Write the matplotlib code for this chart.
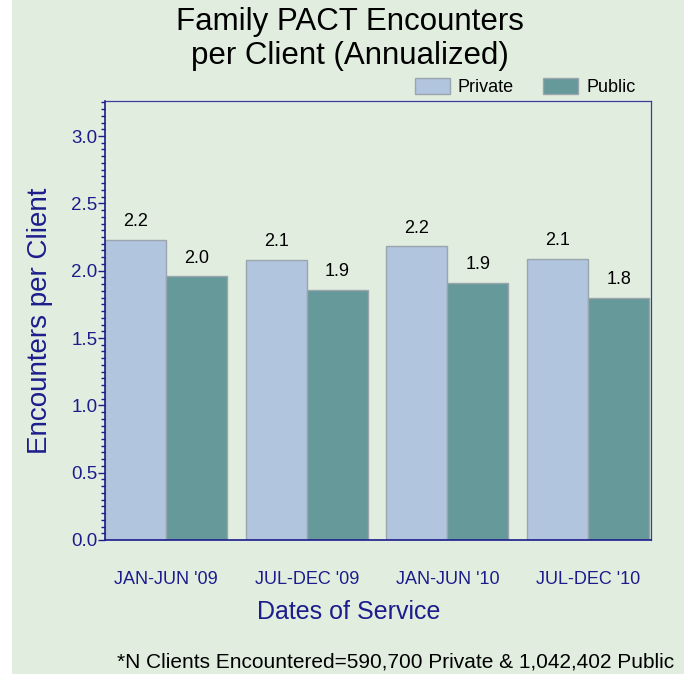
import numpy as np
import matplotlib.pyplot as plt
from matplotlib.ticker import MultipleLocator
from matplotlib.patches import Rectangle

plt.rcParams['font.family'] = ['Liberation Sans', 'DejaVu Sans']

periodos = ["JAN-JUN '09", "JUL-DEC '09", "JAN-JUN '10", "JUL-DEC '10"]
privado = [2.23, 2.08, 2.18, 2.09]
publico = [1.96, 1.86, 1.91, 1.80]
rotulos_privado = ["2.2", "2.1", "2.2", "2.1"]
rotulos_publico = ["2.0", "1.9", "1.9", "1.8"]

fundo = '#e1eedf'
azul = '#1c1c8c'

fig = plt.figure(figsize=(6.87, 6.74), dpi=100, facecolor='white')
fig.patches.append(Rectangle((12/687, 0), 672/687, 1, transform=fig.transFigure,
                             facecolor=fundo, edgecolor='none', zorder=-10))
ax = fig.add_axes([105/687, 1 - 540/674, 546/687, 439/674], facecolor=fundo)

x = np.arange(len(periodos))
w = 0.434
b1 = ax.bar(x - w/2, privado, w, color='#b2c5de', edgecolor='#9aa5ad', linewidth=1, label='Private')
b2 = ax.bar(x + w/2, publico, w, color='#669999', edgecolor='#9aa5ad', linewidth=1, label='Public')

for barra, txt in zip(b1, rotulos_privado):
    ax.text(barra.get_x() + barra.get_width()/2, barra.get_height() + 0.07, txt,
            ha='center', va='bottom', fontsize=13)
for barra, txt in zip(b2, rotulos_publico):
    ax.text(barra.get_x() + barra.get_width()/2, barra.get_height() + 0.07, txt,
            ha='center', va='bottom', fontsize=13)

ax.set_xlim(-0.434, 3.447)
ax.set_ylim(0, 3.26)
ax.set_xticks(x)
ax.set_xticklabels(periodos, color=azul, fontsize=13)
ax.tick_params(axis='x', length=0, pad=22)
ax.yaxis.set_minor_locator(MultipleLocator(0.05))
ax.set_yticks(np.arange(0, 3.01, 0.5))
ax.set_yticklabels([f'{v:.1f}' for v in np.arange(0, 3.01, 0.5)], color=azul, fontsize=13.5)
ax.tick_params(axis='y', which='major', length=5, width=1, color=azul, pad=0.5)
ax.tick_params(axis='y', which='minor', length=3, width=1, color=azul)

for lado in ['left', 'bottom']:
    ax.spines[lado].set_color(azul)
    ax.spines[lado].set_linewidth(1.2)
for lado in ['top', 'right']:
    ax.spines[lado].set_color('#3c3ca0')
    ax.spines[lado].set_linewidth(0.9)

ax.set_ylabel('Encounters per Client', color=azul, fontsize=20, labelpad=13)
fig.text(349/687, 1 - 612/674, 'Dates of Service', color=azul, fontsize=18,
         ha='center', va='center')

fig.text(350/687, 1 - 39/674, 'Family PACT Encounters\nper Client (Annualized)',
         ha='center', va='center', fontsize=22.5, linespacing=1.2)

ax.legend(loc='lower right', bbox_to_anchor=(0.985, 0.995), ncol=2, frameon=False,
          fontsize=13, handlelength=1.95, handleheight=1.0, columnspacing=1.6,
          borderaxespad=0, handletextpad=0.45)

fig.text(117/687, 1 - 662/674, '*N Clients Encountered=590,700 Private & 1,042,402 Public',
         ha='left', va='center', fontsize=15)

plt.savefig('out.png', dpi=100, facecolor='white')
